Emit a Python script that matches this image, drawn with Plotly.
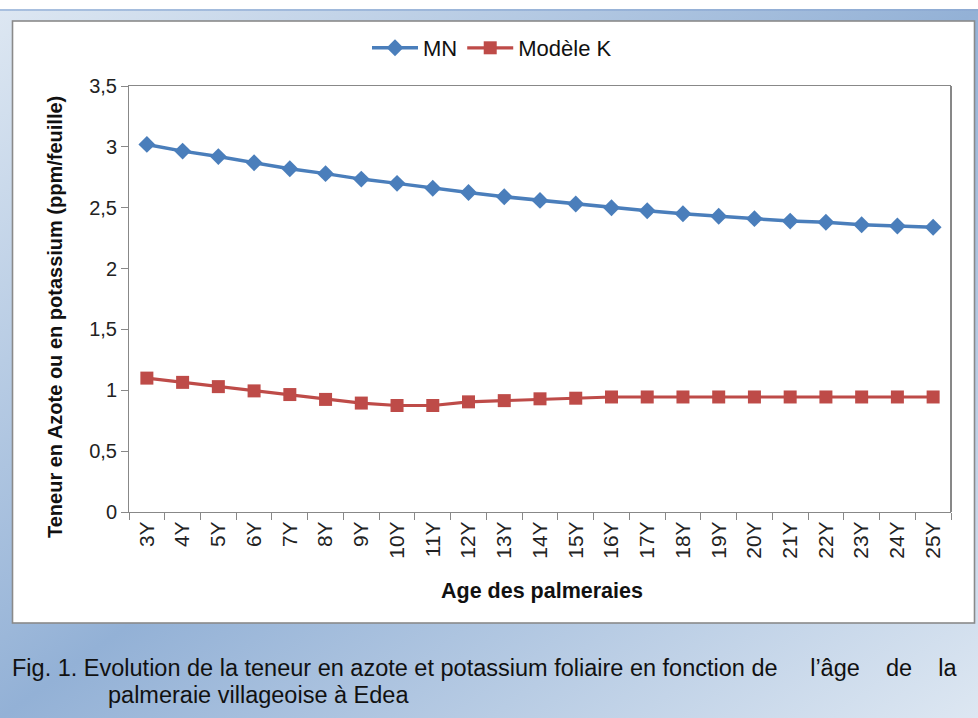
import base64
import plotly.graph_objects as go

ages = ["3Y", "4Y", "5Y", "6Y", "7Y", "8Y", "9Y", "10Y", "11Y", "12Y", "13Y", "14Y",
        "15Y", "16Y", "17Y", "18Y", "19Y", "20Y", "21Y", "22Y", "23Y", "24Y", "25Y"]
mn = [3.02, 2.965, 2.92, 2.87, 2.82, 2.78, 2.735, 2.70, 2.66, 2.625, 2.59, 2.56,
      2.53, 2.50, 2.475, 2.45, 2.43, 2.41, 2.39, 2.38, 2.36, 2.35, 2.34]
modele_k = [1.10, 1.065, 1.03, 0.995, 0.965, 0.925, 0.895, 0.875, 0.875, 0.905, 0.915, 0.93,
            0.935, 0.945, 0.945, 0.945, 0.945, 0.945, 0.945, 0.945, 0.945, 0.945, 0.945]
y_ticks = [0, 0.5, 1, 1.5, 2, 2.5, 3, 3.5]

W, H = 978, 718
L, R, T, B = 129, 951, 86, 512
PW, PH = R - L, B - T


def px(x):
    return (x - L) / PW


def py(y):
    return (B - y) / PH


svg = f"""<svg xmlns='http://www.w3.org/2000/svg' width='{W}' height='{H}' viewBox='0 0 {W} {H}' preserveAspectRatio='none'>
<defs>
<linearGradient id='g' x1='0' y1='0' x2='0.5' y2='0.5' spreadMethod='reflect'>
<stop offset='0' stop-color='#dde7f2'/><stop offset='1' stop-color='#93b1d6'/></linearGradient>
<linearGradient id='h' x1='0' y1='0' x2='1' y2='0'>
<stop offset='0' stop-color='#a9c0df'/><stop offset='1' stop-color='#8eabd3'/></linearGradient>
</defs>
<rect width='{W}' height='{H}' fill='white'/>
<rect x='0' y='10' width='{W}' height='{H-10}' fill='url(#g)'/>
<rect x='0' y='9' width='{W}' height='2' fill='url(#h)'/>
<rect x='12.5' y='21' width='962' height='602' fill='white' stroke='#8a8a8a' stroke-width='1.6'/>
</svg>"""
src = "data:image/svg+xml;base64," + base64.b64encode(svg.encode()).decode()

FONT = "Liberation Sans, Arial, sans-serif"
SP = "\u00a0"

fig = go.Figure()
fig.add_trace(go.Scatter(
    x=ages, y=mn, name="MN", mode="lines+markers",
    line=dict(color="#4a7ebb", width=3.5),
    marker=dict(symbol="diamond", size=13, color="#4a7ebb"),
))
fig.add_trace(go.Scatter(
    x=ages, y=modele_k, name="Modèle K", mode="lines+markers",
    line=dict(color="#be4b48", width=3.2),
    marker=dict(symbol="square", size=13, color="#be4b48"),
))

fig.update_layout(
    width=W, height=H,
    margin=dict(l=L, r=W - R, t=T, b=H - B, autoexpand=False),
    paper_bgcolor="white",
    plot_bgcolor="rgba(0,0,0,0)",
    separators=", ",
    font=dict(family=FONT, size=16, color="#222"),
    showlegend=True,
    legend=dict(orientation="h", x=px(367), xanchor="left", y=py(48), yanchor="middle",
                font=dict(size=22, color="#111"), bgcolor="rgba(0,0,0,0)",
                itemwidth=46, tracegroupgap=0),
    images=[dict(source=src, xref="paper", yref="paper", x=px(0), y=py(0),
                 sizex=W / PW, sizey=H / PH, xanchor="left", yanchor="top",
                 sizing="stretch", layer="below")],
    xaxis=dict(
        type="category", range=[-0.5, len(ages) - 0.5], autorange=False,
        showgrid=False, showline=True, linecolor="#888", linewidth=1,
        mirror=True, ticks="outside", ticklen=7, tickcolor="#888", tickson="boundaries",
        tickangle=-90, tickfont=dict(size=21, color="#222"), automargin=False,
    ),
    yaxis=dict(
        range=[0, 3.5], tickvals=y_ticks, showgrid=False, zeroline=False,
        showline=True, linecolor="#888", linewidth=1, ticks="outside", ticklen=7,
        tickcolor="#888", tickfont=dict(size=20, color="#222"), automargin=False,
    ),
    shapes=[dict(type="line", xref="paper", yref="paper", x0=1, x1=1, y0=0, y1=1,
                 line=dict(color="#111", width=1))],
    annotations=[
        dict(text="<b>Teneur en Azote ou en potassium (ppm/feuille)</b>", textangle=-90,
             xref="paper", yref="paper", x=px(55), y=py(317), showarrow=False,
             xanchor="center", yanchor="middle", font=dict(size=20, color="#111")),
        dict(text="<b>Age des palmeraies</b>", xref="paper", yref="paper",
             x=px(542), y=py(591), showarrow=False, xanchor="center", yanchor="middle",
             font=dict(size=21.5, color="#111")),
        dict(text="Fig. 1. Evolution de la teneur en azote et potassium foliaire en fonction de"
                  + SP * 5 + "l\u2019âge" + SP * 4 + "de" + SP * 4 + "la",
             xref="paper", yref="paper", x=px(10), y=py(668), showarrow=False,
             xanchor="left", yanchor="middle", font=dict(size=23.5, color="#111")),
        dict(text="palmeraie villageoise à Edea", xref="paper", yref="paper",
             x=px(106), y=py(695), showarrow=False, xanchor="left", yanchor="middle",
             font=dict(size=23.5, color="#111")),
    ],
)

fig.write_html("out.html", config={"displayModeBar": False},
               post_script="document.body.style.margin='0';")
